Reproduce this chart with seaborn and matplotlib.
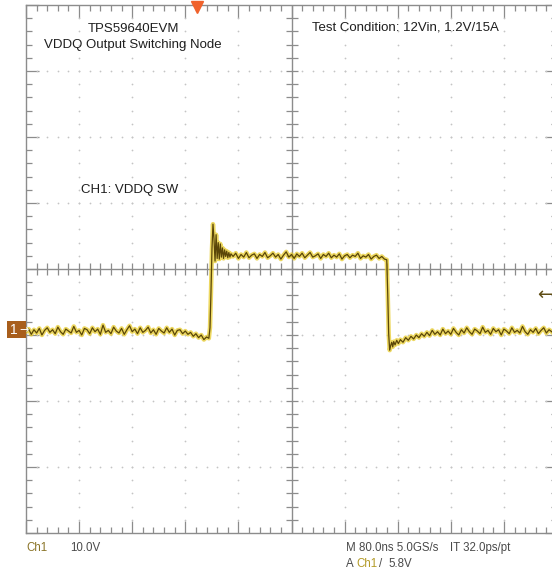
import numpy as np
import pandas as pd
import matplotlib
matplotlib.use("Agg")
import matplotlib.pyplot as plt
from matplotlib.ticker import MultipleLocator
from matplotlib.patches import Rectangle
import seaborn as sns

# ---------------- data ----------------
ns_per_div = 80.0
volts_per_div = 10.0
ch1_offset_div = 0.94           # ground level below screen centre
trigger_pos_ns = -143.0
trigger_level_v = 5.8

# low level before the rising edge (4 ns sampling from -400 ns)
low1_start_ns, low1_step_ns = -400.0, 4.0
low1_v = [-0.1, 0.3, -0.5, 0.2, -0.3, 0.4, -0.6, 0.1, 0.5, -0.2,
          0.2, -0.4, 0.6, -0.1, -0.5, 0.3, 0.0, -0.3, 0.7, -0.2,
          0.1, -0.6, 0.4, 0.2, -0.4, 0.5, -0.1, 0.3, -0.5, 0.9,
          -0.2, 0.1, -0.4, 0.6, 0.0, -0.3, 0.4, -0.5, 0.2, 0.8,
          -0.1, 0.3, -0.4, 0.5, -0.2, 0.1, 0.6, -0.3, 0.2, -0.5,
          0.4, 0.0, -0.3, 0.5, -0.2, 0.3, -0.6, 0.1, 0.2, -0.4,
          0.0, -0.5, -0.2, -0.8, -0.4, -1.0, -0.6, -1.3, -0.9]

# rising edge with ringing
rise_t = [-124.5, -122.8, -121.3, -119.8, -118.3, -116.8, -115.2, -113.6, -112.0, -110.4,
          -108.8, -107.2, -105.6, -104.0, -102.4, -100.8, -99.2, -97.6, -96.0, -94.4,
          -92.8, -91.2]
rise_v = [-1.1, 0.5, 6.0, 12.5, 16.2, 14.0, 10.6, 14.6, 11.0, 13.4,
          10.9, 13.2, 11.2, 12.6, 11.0, 12.3, 11.3, 12.1, 11.1, 11.9,
          11.2, 11.7]

# high level
high_start_ns, high_step_ns = -88.0, 4.0
high_v = [11.3, 11.8, 11.0, 11.6, 11.2, 11.9, 11.1, 11.5, 11.7, 11.0,
          11.6, 11.3, 11.9, 11.1, 11.4, 11.8, 11.2, 11.6, 10.9, 11.5,
          12.0, 11.2, 11.6, 11.0, 11.7, 11.3, 11.8, 11.1, 11.5, 11.9,
          11.2, 11.4, 11.7, 11.0, 11.6, 11.3, 11.8, 11.1, 11.5, 11.2,
          11.7, 10.9, 11.4, 11.6, 11.1, 11.5, 11.3, 11.8, 11.0, 11.4,
          11.2, 11.6, 10.9, 11.3, 11.5, 11.0, 11.3, 10.9]

# falling edge with undershoot
fall_t = [143.5, 145.0, 146.4, 147.9, 149.4, 151.0, 152.5, 154.0, 156.0, 158.5, 161.0]
fall_v = [10.8, 5.6, -0.4, -2.9, -2.2, -1.7, -2.4, -1.6, -2.1, -1.4, -1.9]

# low level after the falling edge
low2_start_ns, low2_step_ns = 164.0, 4.0
low2_v = [-1.3, -1.7, -1.0, -1.4, -0.8, -1.2, -0.6, -1.0, -0.4, -0.8,
          -0.2, -0.7, 0.1, -0.5, -0.1, -0.6, 0.3, -0.4, 0.0, -0.5,
          0.4, -0.2, -0.6, 0.2, -0.3, 0.5, -0.1, -0.5, 0.3, 0.0,
          -0.4, 0.6, -0.2, 0.1, -0.5, 0.4, -0.1, 0.2, -0.6, 0.3,
          0.0, -0.4, 0.5, -0.2, 0.1, -0.3, 0.7, -0.1, -0.5, 0.2,
          -0.2, 0.4, -0.4, 0.1, 0.5, -0.3, 0.2, -0.1, -0.5, 0.3]

# ---------------- assemble record ----------------
def sampled(start, step, vals):
    return [start + step * i for i in range(len(vals))]

t_all = (sampled(low1_start_ns, low1_step_ns, low1_v) + rise_t +
         sampled(high_start_ns, high_step_ns, high_v) + fall_t +
         sampled(low2_start_ns, low2_step_ns, low2_v))
v_all = low1_v + rise_v + high_v + fall_v + low2_v
df = pd.DataFrame({"time_ns": t_all, "ch1_v": v_all})

# ---------------- figure ----------------
sns.set_style("white")
plt.rcParams["font.family"] = ["Liberation Sans", "DejaVu Sans"]

W, H = 552, 573
fig = plt.figure(figsize=(W / 100, H / 100), dpi=100)
fig.patch.set_facecolor("white")

ax_l, ax_r, ax_t, ax_b = 26, 557, 5, 533
ax = fig.add_axes([ax_l / W, 1 - ax_b / H, (ax_r - ax_l) / W, (ax_b - ax_t) / H])
ax.set_facecolor("white")

yc = ch1_offset_div * volts_per_div
ax.set_xlim(-5 * ns_per_div, 5 * ns_per_div)
ax.set_ylim(yc - 4 * volts_per_div, yc + 4 * volts_per_div)

frame_col = "#8c8c8c"
for s in ax.spines.values():
    s.set_color(frame_col)
    s.set_linewidth(1.0)

ax.xaxis.set_major_locator(MultipleLocator(ns_per_div))
ax.xaxis.set_minor_locator(MultipleLocator(ns_per_div / 5))
ax.yaxis.set_major_locator(MultipleLocator(volts_per_div, offset=yc))
ax.yaxis.set_minor_locator(MultipleLocator(volts_per_div / 5, offset=yc))
ax.tick_params(which="both", direction="in", top=True, right=True, bottom=True, left=True,
               labelbottom=False, labelleft=False, color=frame_col, width=0.9)
ax.tick_params(which="major", length=9)
ax.tick_params(which="minor", length=4.5)

# dotted graticule
dot_col = "#c4c4c4"
xs_major = [-5 * ns_per_div + k * ns_per_div for k in range(1, 10) if k != 5]
ys_major = [yc + j * volts_per_div for j in range(-3, 4) if j != 0]
y_minor = [yc - 4 * volts_per_div + i * volts_per_div / 5 for i in range(1, 40)]
x_minor = [-5 * ns_per_div + i * ns_per_div / 5 for i in range(1, 50)]
for xm in xs_major:
    ax.scatter([xm] * len(y_minor), y_minor, s=1.6, color=dot_col, linewidths=0, zorder=1)
for ym in ys_major:
    ax.scatter(x_minor, [ym] * len(x_minor), s=1.6, color=dot_col, linewidths=0, zorder=1)

# centre crosshair
ax.axhline(yc, color=frame_col, lw=1.0, zorder=2)
ax.axvline(0, color=frame_col, lw=1.0, zorder=2)
ax.plot(x_minor, [yc] * len(x_minor), ls="none", marker="|", ms=8, mew=0.9, color=frame_col, zorder=2)
ax.plot([0] * len(y_minor), y_minor, ls="none", marker="_", ms=8, mew=0.9, color=frame_col, zorder=2)

# trace: yellow halo + dark core
sns.lineplot(data=df, x="time_ns", y="ch1_v", sort=False, estimator=None,
             color="#e6c81e", lw=3.2, alpha=0.7, ax=ax, zorder=3)
sns.lineplot(data=df, x="time_ns", y="ch1_v", sort=False, estimator=None,
             color="#5a4608", lw=0.9, ax=ax, zorder=4)
ax.set_xlabel("")
ax.set_ylabel("")

# trigger position marker (top)
ax.plot([trigger_pos_ns], [yc + 4 * volts_per_div - 0.3], marker="v", ms=8,
        color="#f0622c", clip_on=False, zorder=6)


def ftxt(x, y, s, **kw):
    fig.text(x / W, 1 - y / H, s, **kw)


# trigger level arrow (right)
ftxt(545, 295, "\u2190", fontsize=13, color="#5e4c14", ha="center", va="center",
     family=["DejaVu Sans"], zorder=6)

# channel ground marker
fig.patches.append(Rectangle((7 / W, 1 - 338 / H), 19 / W, 17 / H, transform=fig.transFigure,
                             facecolor="#a85e1c", edgecolor="none", zorder=2))
ftxt(14, 330, "1", fontsize=10, color="white", ha="center", va="center", zorder=7)
ftxt(24, 330, "\u2192", fontsize=8, color="white", ha="center", va="center",
     family=["DejaVu Sans"], zorder=7)

# annotation texts
txt_col = "#1e1e1e"
ftxt(133, 29, "TPS59640EVM", fontsize=9.5, color=txt_col, ha="center", va="center")
ftxt(133, 45, "VDDQ Output Switching Node", fontsize=9.5, color=txt_col, ha="center", va="center")
ftxt(312, 28, "Test Condition: 12Vin, 1.2V/15A", fontsize=9.5, color=txt_col, ha="left", va="center")
ftxt(81, 190, "CH1: VDDQ SW", fontsize=9.5, color=txt_col, ha="left", va="center")

# scope readout line
ro = dict(fontsize=8.3, ha="left", va="center", family=["Liberation Sans", "DejaVu Sans"])
ro_col = "#4a4a4a"
ftxt(26, 548, "Ch1", color="#8a7428", **ro)
ftxt(70, 548, "10.0V", color=ro_col, **ro)
ftxt(346, 548, "M 80.0ns 5.0GS/s", color=ro_col, **ro)
ftxt(450, 548, "IT 32.0ps/pt", color=ro_col, **ro)
ftxt(346, 564, "A", color=ro_col, **ro)
ftxt(356, 564, "Ch1", color="#b39a26", **ro)
ftxt(379, 564, "/", color=ro_col, **ro)
ftxt(388, 564, f"{trigger_level_v:.1f}V", color=ro_col, **ro)

fig.savefig("out.png", dpi=100, facecolor="white")
